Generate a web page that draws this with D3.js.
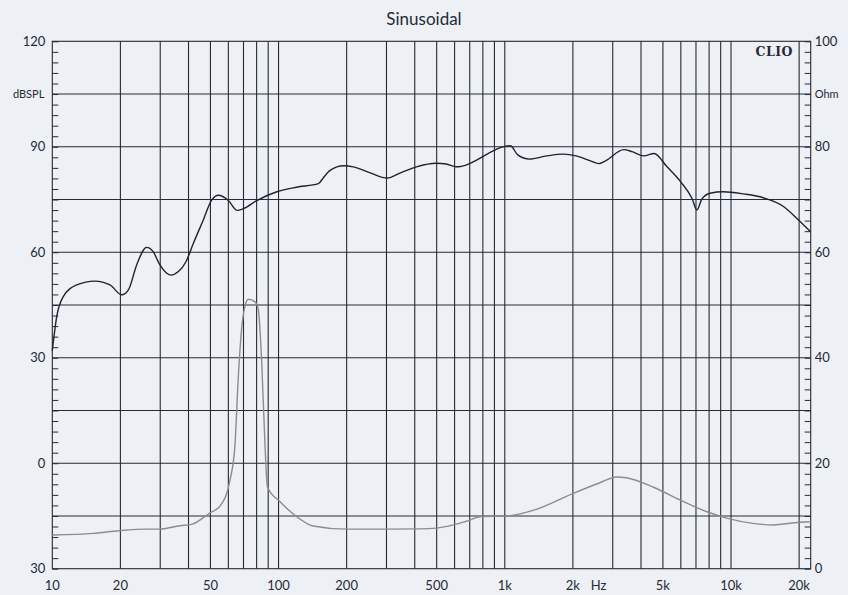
<!DOCTYPE html>
<html>
<head>
<meta charset="utf-8">
<script src="https://cdn.jsdelivr.net/npm/d3@7"></script>
<style>
  body { margin: 0; background: #edf0f5; }
  svg { display: block; font-family: "Lato", "Open Sans", sans-serif; }
</style>
</head>
<body>
<svg id="chart"></svg>
<script>
// SPL response (dB)
const splFreq = [10, 10.46, 11.18, 12.82, 15.44, 17.99, 20.26, 21.7, 23.6, 26.1, 27.9, 29.9, 33.4, 36.1, 38.97, 42.0, 46.5, 50.7, 54.3, 60.0, 65.7, 69.9, 80.1, 98.3, 120, 150, 157, 169, 194, 214, 254, 302, 344, 407, 499, 551, 609, 1058, 1141, 1285, 1530, 1813, 2069, 2391, 2600, 2787, 3358, 3658, 4121, 4570, 5214, 5980, 6726, 7067, 7429, 8075, 9228, 11331, 13890, 17060, 19500, 22500];
const splDb = [32, 41.7, 47.4, 50.7, 51.8, 50.7, 47.9, 49.3, 56.4, 61.4, 60.2, 56.4, 53.5, 54.5, 57.3, 62.5, 69.2, 74.9, 76.2, 74.7, 71.9, 72.4, 74.7, 77.2, 78.5, 79.5, 81.0, 83.3, 84.6, 84.3, 82.6, 81.1, 82.5, 84.3, 85.3, 85.1, 84.3, 90.3, 87.7, 86.5, 87.4, 87.9, 87.4, 86.0, 85.2, 86.0, 89.2, 88.6, 87.4, 88.1, 84.3, 80.1, 75.3, 72.0, 75.1, 76.8, 77.2, 76.6, 75.5, 73.0, 69.7, 65.8];

// impedance (Ohm)
const impFreq = [10, 15.2, 19.7, 26.2, 29.7, 36.7, 41.3, 49.8, 55.2, 61.0, 64.1, 66.3, 68.6, 71.0, 73.5, 78.7, 81.4, 84.3, 87.2, 89.3, 101.6, 120, 142, 200, 300, 421, 499, 592, 675, 790, 1020, 1388, 2010, 2635, 3118, 3449, 4570, 5980, 7823, 9572, 12490, 15300, 20100, 22500];
const impOhm = [6.4, 6.7, 7.2, 7.5, 7.5, 8.15, 8.4, 10.6, 11.9, 16.8, 23.1, 35.8, 45.3, 49.7, 51.1, 50.6, 49.1, 38.9, 23.1, 15.5, 12.7, 9.9, 8.1, 7.5, 7.5, 7.55, 7.7, 8.3, 9.0, 9.9, 10.0, 11.3, 14.3, 16.3, 17.4, 17.25, 15.4, 13.0, 10.8, 9.6, 8.6, 8.3, 8.8, 8.9];

// axes
const gridFreqs = [20, 30, 40, 50, 60, 70, 80, 90, 100, 200, 300, 400, 500, 600, 700, 800, 900, 1000, 2000, 3000, 4000, 5000, 6000, 7000, 8000, 9000, 10000, 20000];
const xTickValues = [10, 20, 50, 100, 200, 500, 1000, 2000, 5000, 10000, 20000];
const xTickLabels = ["10", "20", "50", "100", "200", "500", "1k", "2k", "5k", "10k", "20k"];
const dbGrid = [105, 90, 75, 60, 45, 30, 15, 0, -15];
const dbTickValues = [120, 90, 60, 30, 0, -30];
const dbTickLabels = ["120", "90", "60", "30", "0", "30"];
const ohmTickValues = [100, 80, 60, 40, 20, 0];

const width = 848, height = 595;
const margin = { top: 41.3, right: 37.3, bottom: 26.3, left: 52.3 };
const ink = "#262a35";

const svg = d3.select("#chart").attr("width", width).attr("height", height);

svg.append("rect").attr("width", width).attr("height", height).attr("fill", "#edf0f5");

const x = d3.scaleLog()
    .domain([10, 22500])
    .range([margin.left, width - margin.right]);

const yDb = d3.scaleLinear()
    .domain([-30, 120])
    .range([height - margin.bottom, margin.top]);

const yOhm = d3.scaleLinear()
    .domain([0, 100])
    .range([height - margin.bottom, margin.top]);

// vertical grid
svg.append("g")
   .selectAll("line")
   .data(gridFreqs)
   .join("line")
   .attr("x1", d => x(d)).attr("x2", d => x(d))
   .attr("y1", margin.top).attr("y2", height - margin.bottom)
   .attr("stroke", ink).attr("stroke-width", 1.1);

// horizontal grid
svg.append("g")
   .selectAll("line")
   .data(dbGrid)
   .join("line")
   .attr("x1", margin.left).attr("x2", width - margin.right)
   .attr("y1", d => yDb(d)).attr("y2", d => yDb(d))
   .attr("stroke", ink).attr("stroke-width", 1.1);

// frame
svg.append("rect")
   .attr("x", margin.left).attr("y", margin.top)
   .attr("width", width - margin.left - margin.right)
   .attr("height", height - margin.top - margin.bottom)
   .attr("fill", "none").attr("stroke", ink).attr("stroke-width", 1.1);

// left minor ticks (every 3 dB)
svg.append("g")
   .attr("transform", `translate(${margin.left}, 0)`)
   .call(d3.axisRight(yDb).tickValues(d3.range(-30, 121, 3)).tickSize(6).tickFormat(""))
   .call(g => g.select(".domain").remove())
   .selectAll("line").attr("stroke", ink);

// right minor ticks (every 2 Ohm)
svg.append("g")
   .attr("transform", `translate(${width - margin.right}, 0)`)
   .call(d3.axisLeft(yOhm).tickValues(d3.range(0, 101, 2)).tickSize(6).tickFormat(""))
   .call(g => g.select(".domain").remove())
   .selectAll("line").attr("stroke", ink);

// left labels
svg.append("g")
   .selectAll("text")
   .data(dbTickValues)
   .join("text")
   .attr("x", margin.left - 7)
   .attr("y", d => yDb(d))
   .attr("dy", "0.35em")
   .attr("text-anchor", "end")
   .attr("fill", ink)
   .style("font-size", "13px")
   .text((d, i) => dbTickLabels[i]);

svg.append("text")
   .attr("x", margin.left - 8).attr("y", yDb(105)).attr("dy", "0.35em")
   .attr("text-anchor", "end").attr("fill", ink)
   .style("font-size", "11px")
   .text("dBSPL");

// right labels
svg.append("g")
   .selectAll("text")
   .data(ohmTickValues)
   .join("text")
   .attr("x", width - margin.right + 4)
   .attr("y", d => yOhm(d))
   .attr("dy", "0.35em")
   .attr("fill", ink)
   .style("font-size", "13px")
   .text(d => d);

svg.append("text")
   .attr("x", width - margin.right + 4).attr("y", yOhm(90)).attr("dy", "0.35em")
   .attr("fill", ink)
   .style("font-size", "11px")
   .text("Ohm");

// bottom labels
svg.append("g")
   .selectAll("text")
   .data(xTickValues)
   .join("text")
   .attr("x", d => x(d))
   .attr("y", height - margin.bottom + 21)
   .attr("text-anchor", "middle")
   .attr("fill", ink)
   .style("font-size", "13px")
   .text((d, i) => xTickLabels[i]);

svg.append("text")
   .attr("x", x(2600)).attr("y", height - margin.bottom + 21)
   .attr("text-anchor", "middle").attr("fill", ink)
   .style("font-size", "13px")
   .text("Hz");

// title
svg.append("text")
   .attr("x", width / 2).attr("y", 25)
   .attr("text-anchor", "middle").attr("fill", ink)
   .style("font-size", "17px")
   .text("Sinusoidal");

// CLIO mark
svg.append("text")
   .attr("x", 793).attr("y", 56)
   .attr("text-anchor", "end").attr("fill", ink)
   .style("font-family", "'DejaVu Serif', serif")
   .style("font-size", "12.5px").style("font-weight", "bold")
   .style("letter-spacing", "0.5px")
   .text("CLIO");

// curves
const splLine = d3.line()
    .x(d => x(d[0]))
    .y(d => yDb(d[1]))
    .curve(d3.curveMonotoneX);

const impLine = d3.line()
    .x(d => x(d[0]))
    .y(d => yOhm(d[1]))
    .curve(d3.curveMonotoneX);

svg.append("path")
   .datum(impFreq.map((f, i) => [f, impOhm[i]]))
   .attr("d", impLine)
   .attr("fill", "none").attr("stroke", "#8c8c8c").attr("stroke-width", 1.4);

svg.append("path")
   .datum(splFreq.map((f, i) => [f, splDb[i]]))
   .attr("d", splLine)
   .attr("fill", "none").attr("stroke", "#1f2330").attr("stroke-width", 1.4);
</script>
</body>
</html>
